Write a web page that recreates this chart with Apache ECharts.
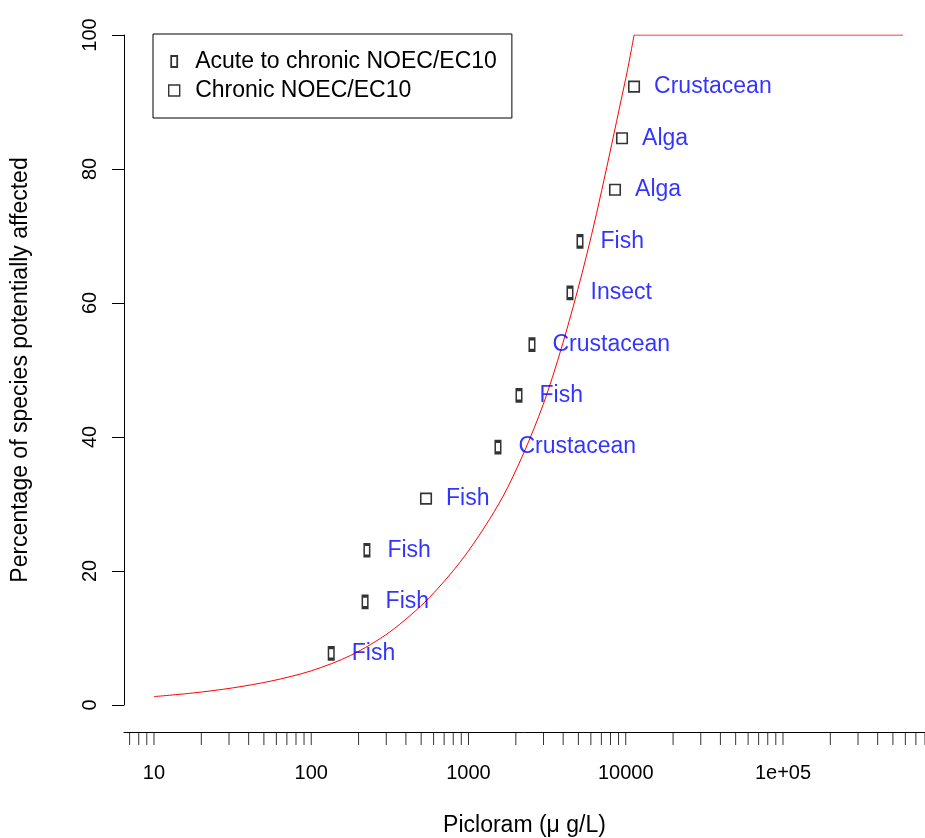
<!DOCTYPE html>
<html><head><meta charset="utf-8">
<script src="https://cdn.jsdelivr.net/npm/echarts@6/dist/echarts.min.js"></script>
<style>html,body{margin:0;padding:0;background:#fff}#c{width:925px;height:838px}</style>
</head><body><div id="c"></div>
<script>
// ---- data ----
const species = ['Fish','Fish','Fish','Fish','Crustacean','Fish','Crustacean','Insect','Fish','Alga','Alga','Crustacean'];
const concentration = [134, 220, 226, 537, 1540, 2095, 2534, 4420, 5118, 8546, 9467, 11290];
const percentAffected = [7.7, 15.4, 23.1, 30.8, 38.5, 46.2, 53.8, 61.5, 69.2, 76.9, 84.6, 92.3];
const dataType = ['acute','acute','acute','chronic','acute','acute','acute','acute','acute','chronic','chronic','chronic'];

// fitted curve (rising part) and the plateau at 100 %
const curveX = [10, 17.8, 31.6, 56.2, 100, 178, 316, 562, 1000, 1778, 3162, 5623, 10000, 11300];
const curveY = [1.25, 1.8, 2.55, 3.6, 5.1, 7.4, 10.9, 16.0, 23.0, 32.5, 46.5, 67.0, 93.5, 100];
const plateauX = [11300, 580000];
const plateauY = [100, 100];

const xTickValues = [7,8,9,10,20,30,40,50,60,70,80,90,100,200,300,400,500,600,700,800,900,
  1000,2000,3000,4000,5000,6000,7000,8000,9000,10000,20000,30000,40000,50000,60000,70000,80000,90000,
  100000,200000,300000,400000,500000,600000,700000,800000];
const xTickLabels = ['10','100','1000','10000','1e+05'];
const legendNames = ['Acute to chronic NOEC/EC10','Chronic NOEC/EC10'];

// ---- chart ----
const FONT = 'Liberation Sans, Arial, sans-serif';
const X_MIN = 6.447, X_MAX = 8.0e5;
const gridLeft = 124, gridRight = 0;

function pts(type) {
  const out = [];
  for (let i = 0; i < species.length; i++) {
    if (dataType[i] === type) out.push({name: species[i], value: [concentration[i], percentAffected[i]]});
  }
  return out;
}

const chart = echarts.init(document.getElementById('c'));
chart.setOption({
  animation: false,
  backgroundColor: '#fff',
  grid: [
    {left: gridLeft, right: gridRight, top: 35, height: 670},
    {left: gridLeft, right: gridRight, top: 731, height: 1}
  ],
  xAxis: [
    {type: 'log', gridIndex: 0, min: X_MIN, max: X_MAX, show: false},
    {type: 'log', gridIndex: 1, min: X_MIN, max: X_MAX, position: 'bottom',
      axisLine: {show: true, lineStyle: {color: '#000', width: 1}},
      axisTick: {show: false}, splitLine: {show: false}, minorTick: {show: false},
      axisLabel: {
        margin: 31, color: '#000', fontSize: 20, fontFamily: FONT,
        showMinLabel: false, showMaxLabel: false,
        formatter: function (v) {
          const k = Math.round(Math.log10(v));
          if (Math.abs(Math.log10(v) - k) > 1e-6) return '';
          return xTickLabels[k - 1] || '';
        }
      },
      name: 'Picloram (\u03bc g/L)', nameLocation: 'middle', nameGap: 82,
      nameTextStyle: {color: '#000', fontSize: 23, fontFamily: FONT}
    }
  ],
  yAxis: [
    {type: 'value', gridIndex: 0, min: 0, max: 100, interval: 20,
      axisLine: {show: true, lineStyle: {color: '#000', width: 1}},
      axisTick: {show: true, length: 12, lineStyle: {color: '#000'}},
      splitLine: {show: false},
      axisLabel: {rotate: 90, margin: 24, color: '#000', fontSize: 20, fontFamily: FONT},
      name: 'Percentage of species potentially affected', nameLocation: 'middle', nameGap: 92, nameRotate: 90,
      nameTextStyle: {color: '#000', fontSize: 23, fontFamily: FONT}
    },
    {type: 'value', gridIndex: 1, min: 0, max: 1, show: false}
  ],
  legend: {
    left: 153, top: 34, orient: 'vertical',
    borderColor: '#000', borderWidth: 1, borderRadius: 0, backgroundColor: '#fff',
    padding: [16, 15, 16, 15], itemWidth: 32, itemHeight: 11, itemGap: 6,
    textStyle: {color: '#000', fontSize: 23, lineHeight: 23, fontFamily: FONT},
    selectedMode: false,
    data: [
      {name: legendNames[0], icon: 'path://M0,0h6v11h-6z', itemStyle: {color: 'rgba(0,0,0,0)', borderColor: '#000', borderWidth: 1.8}},
      {name: legendNames[1], icon: 'path://M0,0h10v10h-10z', itemStyle: {color: 'rgba(0,0,0,0)', borderColor: '#000', borderWidth: 1.4}}
    ]
  },
  series: [
    {type: 'line', xAxisIndex: 0, yAxisIndex: 0, z: 1, silent: true,
      data: curveX.map((x, i) => [x, curveY[i]]), showSymbol: false, symbol: 'none',
      smooth: 0.3,
      lineStyle: {color: '#ff0000', width: 1}},
    {type: 'line', xAxisIndex: 0, yAxisIndex: 0, z: 1, silent: true,
      data: plateauX.map((x, i) => [x, plateauY[i]]), showSymbol: false, symbol: 'none',
      lineStyle: {color: '#ff0000', width: 1}},
    {type: 'scatter', name: legendNames[0], xAxisIndex: 0, yAxisIndex: 0, z: 3,
      symbol: 'rect', symbolSize: [5.5, 11.5],
      itemStyle: {color: 'rgba(0,0,0,0)', borderColor: '#000', borderWidth: 2.2},
      label: {show: true, position: 'right', distance: 17, formatter: '{b}', color: '#0000ff', fontSize: 23, fontFamily: FONT},
      data: pts('acute')},
    {type: 'scatter', name: legendNames[1], xAxisIndex: 0, yAxisIndex: 0, z: 3,
      symbol: 'rect', symbolSize: [10.5, 10.5],
      itemStyle: {color: 'rgba(0,0,0,0)', borderColor: '#000', borderWidth: 1.6},
      label: {show: true, position: 'right', distance: 14, formatter: '{b}', color: '#0000ff', fontSize: 23, fontFamily: FONT},
      data: pts('chronic')},
    {type: 'scatter', xAxisIndex: 1, yAxisIndex: 1, silent: true, clip: false,
      symbol: 'rect', symbolSize: [1, 13], symbolOffset: [0, 6.5],
      itemStyle: {color: '#000'},
      data: xTickValues.map(v => [v, 0])}
  ]
});
</script></body></html>
